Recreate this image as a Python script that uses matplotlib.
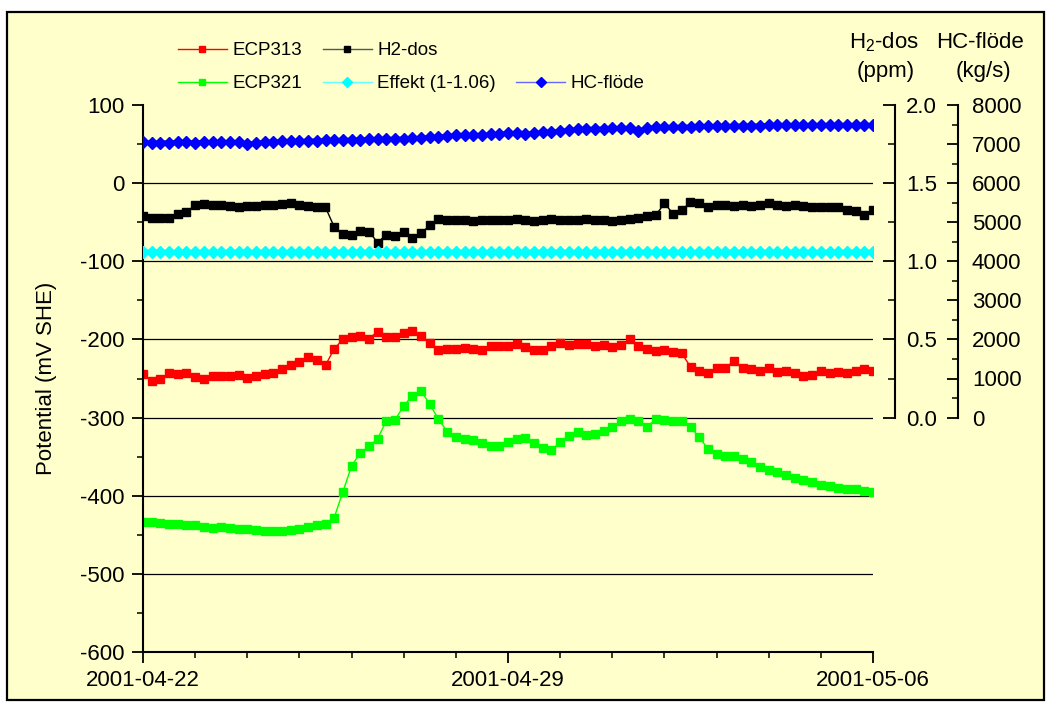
import matplotlib
matplotlib.use("Agg")
import matplotlib.pyplot as plt
import matplotlib.dates as mdates
from matplotlib.ticker import MultipleLocator, FormatStrFormatter
from matplotlib.lines import Line2D
from matplotlib.patches import Rectangle
import pandas as pd

plt.rcParams['font.family'] = ['Liberation Sans', 'DejaVu Sans']
plt.rcParams['axes.unicode_minus'] = False
plt.rcParams['mathtext.fontset'] = 'custom'
plt.rcParams['mathtext.rm'] = 'Liberation Sans'

# 4-hourly readings, 2001-04-22 00:00 .. 2001-05-06 00:00
times = pd.date_range('2001-04-22', '2001-05-06', freq='4h')

# potentials (mV SHE)
ecp313 = [-244, -253, -250, -243, -244, -243, -248, -250, -247, -247,
          -247, -245, -249, -247, -244, -243, -238, -233, -229, -223,
          -226, -233, -212, -200, -197, -195, -199, -190, -197, -197,
          -192, -189, -195, -205, -213, -212, -212, -211, -212, -213,
          -209, -208, -209, -206, -210, -213, -214, -208, -205, -207,
          -206, -206, -209, -207, -210, -207, -200, -208, -212, -215,
          -214, -216, -218, -235, -240, -243, -236, -236, -228, -237,
          -238, -240, -236, -242, -240, -243, -247, -245, -241, -243,
          -242, -243, -240, -238, -240]

ecp321 = [-433, -434, -435, -436, -436, -437, -438, -440, -441, -440,
          -441, -442, -443, -444, -445, -445, -445, -444, -442, -440,
          -438, -436, -428, -395, -362, -345, -337, -327, -304, -303,
          -285, -272, -266, -283, -302, -318, -325, -327, -329, -332,
          -336, -336, -331, -327, -326, -332, -339, -342, -331, -323,
          -319, -322, -321, -317, -312, -305, -302, -304, -312, -302,
          -303, -304, -305, -312, -325, -340, -347, -349, -349, -353,
          -357, -363, -367, -370, -373, -377, -380, -383, -386, -388,
          -390, -391, -392, -394, -395]

# hydrogen dosing (ppm)
h2_dos = [1.29, 1.275, 1.28, 1.28, 1.30, 1.315, 1.36, 1.365, 1.36, 1.36,
          1.355, 1.35, 1.355, 1.355, 1.36, 1.36, 1.365, 1.37, 1.36, 1.355,
          1.35, 1.345, 1.22, 1.175, 1.17, 1.195, 1.19, 1.12, 1.17, 1.16,
          1.19, 1.15, 1.18, 1.23, 1.27, 1.265, 1.265, 1.265, 1.26, 1.265,
          1.265, 1.265, 1.265, 1.27, 1.265, 1.26, 1.265, 1.27, 1.265, 1.265,
          1.265, 1.27, 1.265, 1.265, 1.26, 1.265, 1.27, 1.28, 1.29, 1.295,
          1.37, 1.305, 1.325, 1.38, 1.375, 1.345, 1.36, 1.36, 1.355, 1.36,
          1.355, 1.36, 1.37, 1.36, 1.355, 1.36, 1.355, 1.35, 1.35, 1.345,
          1.345, 1.33, 1.32, 1.295, 1.325]

# reactor power, plotted on the ppm scale
effekt = [1.062, 1.060, 1.061, 1.059, 1.060, 1.061, 1.060, 1.059, 1.061, 1.060,
          1.060, 1.062, 1.059, 1.060, 1.061, 1.060, 1.060, 1.059, 1.061, 1.060,
          1.060, 1.061, 1.060, 1.060, 1.059, 1.060, 1.061, 1.060, 1.060, 1.060,
          1.061, 1.060, 1.059, 1.060, 1.061, 1.060, 1.060, 1.060, 1.061, 1.060,
          1.060, 1.061, 1.060, 1.059, 1.060, 1.060, 1.060, 1.061, 1.060, 1.060,
          1.059, 1.060, 1.060, 1.061, 1.060, 1.060, 1.060, 1.061, 1.060, 1.059,
          1.060, 1.060, 1.059, 1.058, 1.060, 1.059, 1.060, 1.060, 1.061, 1.060,
          1.060, 1.060, 1.060, 1.060, 1.060, 1.061, 1.060, 1.060, 1.060, 1.060,
          1.060, 1.061, 1.060, 1.060, 1.061]

# core flow (kg/s)
hc_flode = [7050, 7030, 7040, 7040, 7050, 7045, 7040, 7050, 7045, 7050,
            7045, 7050, 7000, 7030, 7050, 7060, 7070, 7075, 7075, 7085,
            7090, 7095, 7100, 7105, 7110, 7115, 7120, 7120, 7130, 7135,
            7140, 7150, 7160, 7175, 7190, 7200, 7220, 7230, 7230, 7235,
            7245, 7260, 7275, 7280, 7250, 7290, 7300, 7320, 7330, 7360,
            7380, 7385, 7390, 7395, 7400, 7410, 7405, 7340, 7400, 7430,
            7435, 7440, 7440, 7445, 7450, 7455, 7460, 7460, 7465, 7470,
            7470, 7475, 7480, 7480, 7485, 7480, 7485, 7490, 7485, 7490,
            7490, 7485, 7490, 7490, 7480]

W, H = 1051, 704
fig = plt.figure(figsize=(W / 100, H / 100), dpi=100)
fig.patch.set_facecolor('white')
# pale yellow chart area with black frame (drawn below the axes)
fig.patches.append(Rectangle((7 / W, 1 - 700 / H), 1037 / W, 688 / H,
                             transform=fig.transFigure, facecolor='#FFFFCC',
                             edgecolor='black', lw=1.6, zorder=-5))

ax = fig.add_axes([143 / W, 1 - 652 / H, 730 / W, 547 / H])
ax.set_facecolor('none')
for s in ('top', 'right'):
    ax.spines[s].set_visible(False)
for s in ('left', 'bottom'):
    ax.spines[s].set_linewidth(1.5)

ms = 6.2
l313, = ax.plot(times, ecp313, color='#FF0000', marker='s', ms=ms, lw=1.0, mec='#FF0000')
l321, = ax.plot(times, ecp321, color='#00FF00', marker='s', ms=ms, lw=1.0, mec='#00FF00')

ax.set_ylim(-600, 100)
ax.set_xlim(times[0], times[-1])
ax.yaxis.set_major_locator(MultipleLocator(100))
ax.yaxis.set_minor_locator(MultipleLocator(50))
ax.xaxis.set_major_locator(mdates.DayLocator(bymonthday=[22, 29, 6]))
ax.xaxis.set_minor_locator(mdates.DayLocator())
ax.xaxis.set_major_formatter(mdates.DateFormatter('%Y-%m-%d'))
ax.tick_params(which='major', direction='out', length=8, width=1.3, labelsize=16, pad=5)
ax.tick_params(which='minor', direction='out', length=4, width=1.1)
ax.grid(axis='y', color='black', lw=0.9)
for gl, v in zip(ax.get_ygridlines(), ax.get_yticks()):
    if v >= 100 or v <= -600:
        gl.set_visible(False)
ax.set_ylabel('Potential (mV SHE)', fontsize=16)
ax.yaxis.set_label_coords(-0.118, 0.5)

# H2-dos axis: 0..2 ppm mapped onto -300..100 mV
ax2 = ax.twinx()
ax2.set_facecolor('none')
for s in ('top', 'left', 'bottom'):
    ax2.spines[s].set_visible(False)
ax2.spines['right'].set_position(('outward', 22 * 0.72))
ax2.spines['right'].set_bounds(0, 2.0)
ax2.spines['right'].set_linewidth(1.5)
ax2.set_yticks([0.0, 0.5, 1.0, 1.5, 2.0])
ax2.set_yticks([0.25, 0.75, 1.25, 1.75], minor=True)
ax2.yaxis.set_major_formatter(FormatStrFormatter('%.1f'))
ax2.set_ylim(-1.5, 2.0)
ax2.tick_params(which='major', direction='in', length=8.5, width=1.3, labelsize=16, pad=8)
ax2.tick_params(which='minor', direction='in', length=5, width=1.1)
lh2, = ax2.plot(times, h2_dos, color='black', marker='s', ms=ms, lw=1.0)
leff, = ax2.plot(times, effekt, color='#00FFFF', marker='D', ms=6.5, lw=3, mec='#00FFFF')

# HC-flöde axis: 0..8000 kg/s mapped onto -300..100 mV
ax3 = ax.twinx()
ax3.set_facecolor('none')
for s in ('top', 'left', 'bottom'):
    ax3.spines[s].set_visible(False)
ax3.spines['right'].set_position(('outward', 85 * 0.72))
ax3.spines['right'].set_bounds(0, 8000)
ax3.spines['right'].set_linewidth(1.5)
ax3.set_yticks(range(0, 8001, 1000))
ax3.set_yticks(range(500, 8000, 1000), minor=True)
ax3.set_ylim(-6000, 8000)
ax3.tick_params(which='major', direction='in', length=8, width=1.3, labelsize=16, pad=10)
ax3.tick_params(which='minor', direction='in', length=4.5, width=1.1)
lhc, = ax3.plot(times, hc_flode, color='#0000FF', marker='D', ms=6.5, lw=3, mec='#0000FF')

fig.text(884 / W, 1 - 48 / H, r'H$_\mathregular{2}$-dos', ha='center', va='baseline', fontsize=16)
fig.text(886 / W, 1 - 77 / H, '(ppm)', ha='center', va='baseline', fontsize=16)
fig.text(980 / W, 1 - 48 / H, 'HC-flöde', ha='center', va='baseline', fontsize=16)
fig.text(983 / W, 1 - 77 / H, '(kg/s)', ha='center', va='baseline', fontsize=16)

# legend keys drawn thin with a small marker, as in the original
key = dict(lw=1.0, ms=5)
handles = [Line2D([], [], color='#FF0000', marker='s', **key),
           Line2D([], [], color='#00FF00', marker='s', **key),
           Line2D([], [], color='#555555', marker='s', mfc='black', mec='black', **key),
           Line2D([], [], color='#66FFFF', marker='D', mfc='#00FFFF', mec='#00FFFF', **key),
           Line2D([], [], linestyle='none'),
           Line2D([], [], color='#6666FF', marker='D', mfc='#0000FF', mec='#0000FF', **key)]
fig.legend(handles,
           ['ECP313', 'ECP321', 'H2-dos', 'Effekt (1-1.06)', '', 'HC-flöde'],
           ncol=3, loc='upper left', bbox_to_anchor=(178 / W, 1 - 42 / H),
           frameon=False, fontsize=13.5, handlelength=2.6, handletextpad=0.3,
           columnspacing=1.1, labelspacing=0.85, borderpad=0, borderaxespad=0)

fig.savefig('out.png', dpi=100)
